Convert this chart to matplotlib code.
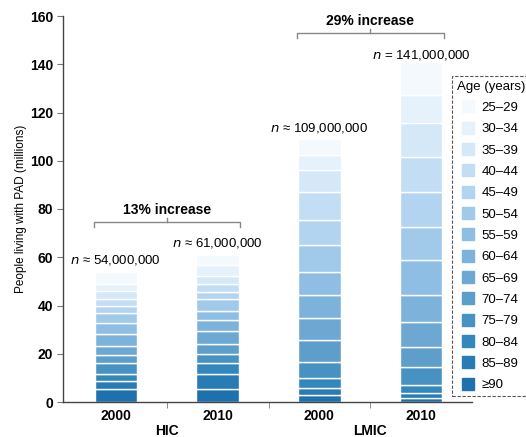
import matplotlib
matplotlib.use("Agg")
import matplotlib.pyplot as plt
from matplotlib.lines import Line2D
import numpy as np

plt.rcParams['font.family'] = ['Liberation Sans', 'DejaVu Sans']

# Age bands, stacked from the oldest (bottom) to the youngest (top)
age_groups = ["25–29", "30–34", "35–39", "40–44", "45–49", "50–54", "55–59",
              "60–64", "65–69", "70–74", "75–79", "80–84", "85–89", "≥90"]

years = ["2000", "2010", "2000", "2010"]
regions = ["HIC", "LMIC"]

# People living with PAD (millions) per age band, listed youngest -> oldest
hic_2000 = [5.1, 3.0, 3.4, 2.9, 2.9, 3.8, 4.6, 5.1, 3.8, 3.4, 4.6, 2.9, 3.0, 5.5]
hic_2010 = [4.4, 4.4, 3.1, 3.5, 3.1, 4.8, 3.9, 4.4, 5.3, 4.4, 3.5, 4.4, 6.6, 5.2]
lmic_2000 = [6.8, 6.2, 9.1, 11.6, 10.4, 11.2, 9.5, 9.5, 9.1, 9.1, 6.6, 4.1, 2.9, 2.9]
lmic_2010 = [13.6, 11.6, 14.1, 14.5, 14.5, 13.7, 14.5, 11.2, 10.4, 8.3, 7.5, 3.3, 2.1, 1.7]

n_signs = ["≈", "≈", "≈", "="]
increases = ["13% increase", "29% increase"]

colors = ["#f3f9fd", "#e5f1fb", "#d4e8f8", "#c3def4", "#b2d4f0", "#a0c9ea",
          "#8ebee3", "#7db3da", "#6da8d2", "#5e9eca", "#4892c3", "#3487bd",
          "#287bb5", "#1f71ae"]

series = [hic_2000, hic_2010, lmic_2000, lmic_2010]
totals = [sum(s) for s in series]

fig = plt.figure(figsize=(5.26, 4.37), dpi=100)
ax = fig.add_axes([63 / 526, 1 - 402 / 437, (472 - 63) / 526, (402 - 16) / 437])

x = np.arange(len(series))
width = 0.42

# Stack from the oldest band upward
bottoms = np.zeros(len(series))
for k in range(len(age_groups) - 1, -1, -1):
    vals = np.array([s[k] for s in series])
    ax.bar(x, vals, width, bottom=bottoms, color=colors[k],
           edgecolor="white", linewidth=1.0)
    bottoms += vals

ax.set_xlim(-0.52, 3.5)
ax.set_ylim(0, 160)
ax.set_yticks(np.arange(0, 161, 20))
ax.tick_params(axis="y", labelsize=10, length=4, color="#777777", pad=3)
for lab in ax.get_yticklabels():
    lab.set_fontweight("bold")

ax.set_xticks(x)
ax.set_xticklabels(years, fontsize=10, fontweight="bold")
ax.set_xticks([0.5, 1.5, 2.5], minor=True)
ax.tick_params(axis="x", which="major", length=0, pad=5)
ax.tick_params(axis="x", which="minor", length=4, color="#777777")

for sp in ["top", "right"]:
    ax.spines[sp].set_visible(False)
for sp in ["left", "bottom"]:
    ax.spines[sp].set_color("#444444")
    ax.spines[sp].set_linewidth(1.0)

ax.set_ylabel("People living with PAD (millions)", fontsize=8.5, labelpad=2)

# Region labels under the year pairs
for i, r in enumerate(regions):
    ax.text(2 * i + 0.5, -12.0, r, ha="center", va="center",
            fontsize=10, fontweight="bold", clip_on=False)

# Totals above each bar
offsets = [5.0, 5.0, 4.7, 3.0]
for i, t in enumerate(totals):
    ax.text(x[i], t + offsets[i], f"$n$ {n_signs[i]} {round(t) * 1_000_000:,}",
            ha="center", va="center", fontsize=9.5)

# Brackets showing the increase within each region
bracket_y = [74.7, 153.0]
for i, label in enumerate(increases):
    x0, x1 = 2 * i - 0.22, 2 * i + 1.22
    yb = bracket_y[i]
    ax.plot([x0, x0, x1, x1], [yb - 2.2, yb, yb, yb - 2.2],
            color="#888888", lw=1.0, clip_on=False)
    ax.plot([2 * i + 0.5, 2 * i + 0.5], [yb, yb + 1.5],
            color="#888888", lw=1.0, clip_on=False)
    ax.text(2 * i + 0.5, yb + 5.0, label, ha="center", va="center",
            fontsize=10, fontweight="bold")

handles = [Line2D([0], [0], marker="s", linestyle="none", markersize=8,
                  markerfacecolor=c, markeredgecolor=c) for c in colors]
leg = fig.legend(handles, age_groups, title="Age (years)",
                 loc="upper left", bbox_to_anchor=(452 / 526, 1 - 76 / 437),
                 borderaxespad=0, fontsize=9.5, title_fontsize=9.5,
                 handlelength=0.8, handletextpad=0.6, labelspacing=0.69,
                 borderpad=0.35, fancybox=False, framealpha=1)
leg.get_frame().set_edgecolor("#555555")
leg.get_frame().set_linewidth(0.8)
leg.get_frame().set_linestyle((0, (3, 1.5)))

fig.savefig("out.png", dpi=100)
